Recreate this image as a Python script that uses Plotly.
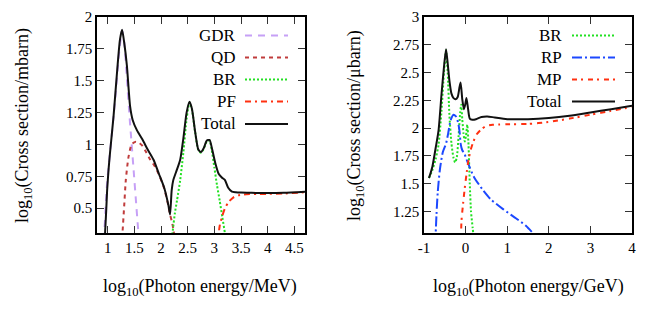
import plotly.graph_objects as go
from plotly.subplots import make_subplots

# ---- left panel: log10(E/MeV) vs log10(sigma/mbarn)
gdr_x = [0.93, 0.99, 1.05, 1.14, 1.21, 1.27, 1.31, 1.36, 1.41, 1.45, 1.49, 1.53, 1.57, 1.60]
gdr_y = [0.25, 0.70, 0.96, 1.35, 1.70, 1.895, 1.80, 1.52, 1.22, 1.00, 0.78, 0.56, 0.34, 0.20]

qd_x = [1.26, 1.28, 1.31, 1.34, 1.39, 1.45, 1.52, 1.58, 1.65, 1.72, 1.80, 1.88, 1.96, 2.06, 2.14, 2.17, 2.20, 2.23, 2.26]
qd_y = [0.20, 0.32, 0.52, 0.72, 0.90, 1.00, 1.02, 1.015, 0.99, 0.94, 0.88, 0.83, 0.765, 0.655, 0.515, 0.45, 0.40, 0.34, 0.25]

br_x = [2.19, 2.22, 2.26, 2.30, 2.36, 2.42, 2.48, 2.535, 2.58, 2.64, 2.70, 2.75, 2.80, 2.86, 2.91,
        2.95, 3.00, 3.05, 3.10, 3.15, 3.20, 3.23]
br_y = [0.20, 0.32, 0.46, 0.56, 0.72, 0.94, 1.20, 1.33, 1.275, 1.095, 0.955, 0.935, 0.965, 1.025, 1.03,
        0.96, 0.82, 0.68, 0.56, 0.43, 0.30, 0.22]

pf_x = [3.06, 3.10, 3.15, 3.20, 3.27, 3.36, 3.45, 3.6, 3.8, 4.0, 4.3, 4.7]
pf_y = [0.20, 0.36, 0.44, 0.50, 0.55, 0.585, 0.60, 0.61, 0.612, 0.612, 0.615, 0.625]

tot_x = [0.945, 0.975, 0.99, 1.02, 1.05, 1.11, 1.18, 1.23, 1.27, 1.31, 1.36, 1.42, 1.47, 1.55, 1.65,
         1.75, 1.86, 1.96, 2.06, 2.14, 2.17, 2.20, 2.23, 2.28, 2.36, 2.42, 2.48, 2.535, 2.58, 2.64,
         2.70, 2.75, 2.80, 2.86, 2.91, 2.96, 3.02, 3.08, 3.14, 3.20, 3.26, 3.33, 3.40, 3.5, 3.7,
         4.0, 4.3, 4.7]
tot_y = [0.25, 0.50, 0.64, 0.82, 0.96, 1.22, 1.59, 1.82, 1.90, 1.80, 1.62, 1.30, 1.19, 1.11, 1.04,
         0.96, 0.88, 0.77, 0.66, 0.52, 0.45, 0.64, 0.72, 0.78, 0.88, 1.05, 1.25, 1.335, 1.28, 1.10,
         0.96, 0.94, 0.97, 1.03, 1.035, 0.96, 0.85, 0.77, 0.74, 0.72, 0.66, 0.63, 0.625, 0.622, 0.62,
         0.618, 0.62, 0.628]

# ---- right panel: log10(E/GeV) vs log10(sigma/ubarn)
brr_x = [-0.88, -0.80, -0.72, -0.65, -0.58, -0.52, -0.47, -0.43, -0.39, -0.34, -0.29, -0.25, -0.21,
         -0.17, -0.13, -0.105, -0.08, -0.05, -0.02, 0.01, 0.04, 0.07, 0.10, 0.13, 0.17, 0.20]
brr_y = [1.55, 1.62, 1.72, 1.85, 2.15, 2.50, 2.70, 2.50, 2.12, 1.86, 1.73, 1.69, 1.74,
         1.92, 2.14, 2.21, 2.08, 1.95, 1.88, 1.93, 2.03, 1.85, 1.50, 1.25, 1.10, 1.00]

rp_x = [-0.73, -0.70, -0.67, -0.62, -0.55, -0.47, -0.42, -0.36, -0.29, -0.22, -0.17, -0.14, -0.12,
        -0.08, -0.03, 0.05, 0.2, 0.4, 0.6, 0.9, 1.2, 1.45, 1.7]
rp_y = [0.95, 1.22, 1.42, 1.62, 1.78, 1.86, 1.95, 2.07, 2.12, 2.10, 2.03, 1.95, 1.86,
        1.80, 1.77, 1.69, 1.56, 1.45, 1.36, 1.27, 1.19, 1.12, 1.02]

mp_x = [-0.11, -0.10, -0.06, -0.02, 0.02, 0.06, 0.12, 0.18, 0.26, 0.38, 0.5, 0.65, 0.8, 1.0, 1.5,
        2.0, 2.5, 3.0, 3.5, 4.0]
mp_y = [0.95, 1.16, 1.32, 1.46, 1.58, 1.69, 1.80, 1.87, 1.94, 1.99, 2.02, 2.03, 2.032, 2.034, 2.037,
        2.055, 2.085, 2.12, 2.155, 2.19]

totr_x = [-0.88, -0.80, -0.72, -0.65, -0.58, -0.52, -0.47, -0.43, -0.39, -0.34, -0.29, -0.24, -0.19,
          -0.15, -0.12, -0.08, -0.04, -0.01, 0.02, 0.06, 0.10, 0.16, 0.25, 0.38, 0.52, 0.7, 1.0,
          1.5, 2.0, 2.5, 3.0, 3.5, 4.0]
totr_y = [1.55, 1.65, 1.82, 1.98, 2.30, 2.55, 2.71, 2.58, 2.43, 2.31, 2.27, 2.26, 2.28,
          2.36, 2.41, 2.26, 2.17, 2.21, 2.27, 2.17, 2.085, 2.075, 2.08, 2.10, 2.105, 2.095, 2.08,
          2.08, 2.09, 2.11, 2.14, 2.17, 2.20]

left_xticks = [1, 1.5, 2, 2.5, 3, 3.5, 4, 4.5]
left_yticks = [0.5, 0.75, 1, 1.25, 1.5, 1.75, 2]
right_xticks = [-1, 0, 1, 2, 3, 4]
right_yticks = [1.25, 1.5, 1.75, 2, 2.25, 2.5, 2.75, 3]

FONT = "Liberation Serif"
W, H = 654, 327
OFF = 8  # page body margin in the browser


def px(x):
    return (x - OFF) / W


def py(y):
    return 1 - (y - OFF) / H


# name, color, dash
left_series = [
    ("GDR", gdr_x, gdr_y, "#c6a0f6", "7px,6px"),
    ("QD", qd_x, qd_y, "#c03c3c", "4px,4px"),
    ("BR", br_x, br_y, "#22e022", "2px,2px"),
    ("PF", pf_x, pf_y, "#ff3010", "6px,4px,2px,4px"),
    ("Total", tot_x, tot_y, "#111111", "solid"),
]
right_series = [
    ("BR", brr_x, brr_y, "#22e022", "2px,2px"),
    ("RP", rp_x, rp_y, "#1c48ff", "10px,3px,2px,3px"),
    ("MP", mp_x, mp_y, "#ff3010", "5px,4px,2px,5px"),
    ("Total", totr_x, totr_y, "#111111", "solid"),
]

fig = make_subplots(rows=1, cols=2)

for name, xs, ys, col, dash in left_series:
    fig.add_trace(go.Scatter(x=xs, y=ys, mode="lines", name=name, showlegend=False,
                             line=dict(color=col, width=2, dash=dash, shape="spline", smoothing=0.6)),
                  row=1, col=1)
for name, xs, ys, col, dash in right_series:
    fig.add_trace(go.Scatter(x=xs, y=ys, mode="lines", name=name, showlegend=False,
                             line=dict(color=col, width=2, dash=dash, shape="spline", smoothing=0.6)),
                  row=1, col=2)


def fmt(v):
    return "%g" % v


axis_common = dict(showline=True, linecolor="black", linewidth=1.5, mirror="ticks",
                   ticks="inside", ticklen=7, tickwidth=1, tickcolor="#333",
                   showgrid=False, zeroline=False, tickmode="array", automargin=False,
                   tickfont=dict(family=FONT, size=15, color="black"))

fig.update_xaxes(domain=[px(97), px(305)], range=[0.8, 4.7], tickvals=left_xticks,
                 ticktext=[fmt(v) for v in left_xticks], **axis_common, row=1, col=1)
fig.update_yaxes(domain=[py(233), py(17)], range=[0.305, 2], tickvals=left_yticks,
                 ticktext=[fmt(v) for v in left_yticks], **axis_common, row=1, col=1)
fig.update_xaxes(domain=[px(424), px(632)], range=[-1, 4], tickvals=right_xticks,
                 ticktext=[fmt(v) for v in right_xticks], **axis_common, row=1, col=2)
fig.update_yaxes(domain=[py(233), py(17)], range=[1.055, 3], tickvals=right_yticks,
                 ticktext=[fmt(v) for v in right_yticks], **axis_common, row=1, col=2)

annotations = []
shapes = []

# axis titles
title_font = dict(family=FONT, size=18, color="black")
for xc, txt in [(200, "log<sub>10</sub>(Photon energy/MeV)"), (528, "log<sub>10</sub>(Photon energy/GeV)")]:
    annotations.append(dict(x=px(xc), y=py(287), xref="paper", yref="paper", text=txt,
                            showarrow=False, font=title_font, xanchor="center", yanchor="middle"))
for xc, txt in [(23, "log<sub>10</sub>(Cross section/mbarn)"), (355, "log<sub>10</sub>(Cross section/μbarn)")]:
    annotations.append(dict(x=px(xc), y=py(126), xref="paper", yref="paper", text=txt,
                            textangle=-90, showarrow=False, font=title_font,
                            xanchor="center", yanchor="middle"))

# gnuplot-style key: label on the left, line sample on the right
legend_font = dict(family=FONT, size=17, color="black")
rows = [35.5, 57.5, 79.5, 101.5, 124]


def add_key(series, text_right, x0, x1):
    for (name, _, _, col, dash), ry in zip(series, rows):
        annotations.append(dict(x=px(text_right), y=py(ry), xref="paper", yref="paper",
                                text=name, showarrow=False, font=legend_font,
                                xanchor="right", yanchor="middle"))
        shapes.append(dict(type="line", xref="paper", yref="paper",
                           x0=px(x0), x1=px(x1), y0=py(ry), y1=py(ry),
                           line=dict(color=col, width=2, dash=dash)))


add_key(left_series, 238, 245, 288)
add_key(right_series, 564, 572, 615)

fig.update_layout(width=W, height=H, margin=dict(l=0, r=0, t=0, b=0),
                  paper_bgcolor="white", plot_bgcolor="white",
                  annotations=annotations, shapes=shapes,
                  font=dict(family=FONT, color="black"))

fig.write_html("out.html")
